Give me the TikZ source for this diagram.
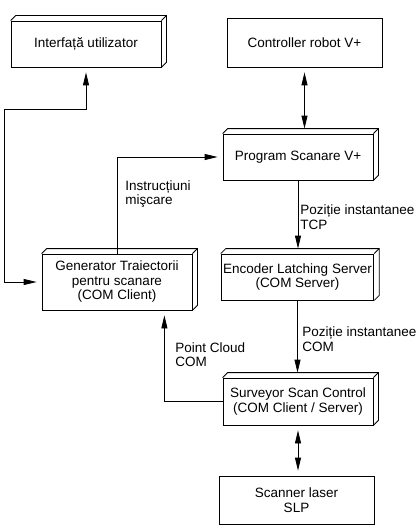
\documentclass[tikz,border=0pt]{standalone}
\usepackage{fontspec}
\setmainfont{Liberation Sans}
\usetikzlibrary{arrows.meta}

\tikzset{
	box/.style={shape=rectangle,draw=black,align=center,minimum width=150,minimum height=46,inner sep=2pt},
	arr/.style={-{Triangle[length=13pt,width=6pt]},shorten >=5pt},
	arrs/.style={{Triangle[length=13pt,width=6pt]}-{Triangle[length=13pt,width=6pt]},shorten >=5pt,shorten <=5pt},
	lbl/.style={align=left,anchor=west,inner sep=0pt}
}
% top and right faces of a 3d box
\newcommand{\extrude}[1]{%
	\draw (#1.north west) -- ++(5,-5) -- ([shift={(5,-5)}]#1.north east) -- ([shift={(5,-5)}]#1.south east) -- (#1.south east);
	\draw (#1.north east) -- ++(5,-5);}

\begin{document}
\begin{tikzpicture}[x=1pt,y=-1pt,font=\fontsize{13.5}{14.5}\selectfont,line width=0.8pt]
	\useasboundingbox (0,0) rectangle (416,532);
	\node[box] (ui)   at (86, 44)    {Interfață utilizator};
	\node[box,minimum width=155,minimum height=49] (ctrl) at (304.5, 42.5) {Controller robot V+};
	\node[box] (prog) at (298, 157)   {Program Scanare V+};
	\node[box,minimum height=56] (gen) at (117, 282) {Generator Traiectorii\\pentru scanare\\(COM Client)};
	\node[box,minimum width=149] (enc) at (297.5, 277) {Encoder Latching Server\\(COM Server)};
	\node[box,minimum height=47] (surv) at (298, 401.5) {Surveyor Scan Control\\(COM Client / Server)};
	\node[box,minimum width=155,minimum height=48] (scan) at (296.5, 500) {Scanner laser\\SLP};
	\extrude{ui}
	\extrude{prog}
	\extrude{gen}
	\extrude{enc}
	\extrude{surv}
	\draw[arrs] (ui.south) |- (4,109) |- (gen.west);
	\draw[arr] (gen.north) |- (prog.west);
	\draw[arrs] (ctrl.south) -- (ctrl.south |- prog.north);
	\draw[arr] (prog.south) -- (prog.south |- enc.north);
	\draw[arr] (enc.south) -- (enc.south |- surv.north);
	\draw[arr] (surv.west) -| ([xshift=-28]gen.south east);
	\draw[arrs] (surv.south) -- (surv.south |- scan.north);
	\node[lbl] (instr) at (125, 194) {Instrucțiuni\\mişcare};
	\node[lbl] (tcp)   at (300, 217) {Poziție instantanee\\TCP};
	\node[lbl] (com)   at (302, 339) {Poziție instantanee\\COM};
	\node[lbl] (cloud) at (175, 354.5) {Point Cloud\\COM};
\end{tikzpicture}
\end{document}
